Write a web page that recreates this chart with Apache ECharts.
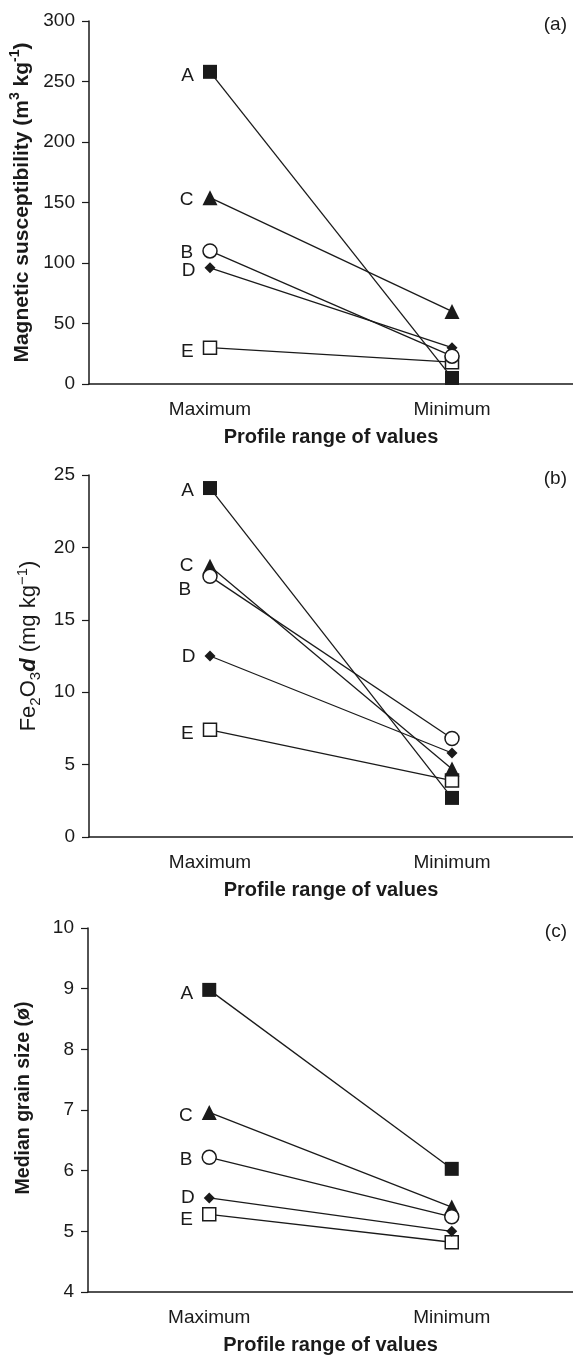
<!DOCTYPE html>
<html>
<head>
<meta charset="utf-8">
<script src="https://cdn.jsdelivr.net/npm/echarts@6/dist/echarts.min.js"></script>
<style>
html,body{margin:0;padding:0;background:#fff;}
#chart{width:573px;height:1356px;}
</style>
</head>
<body>
<div id="chart"></div>
<script>
// ---- data ----
const categories = ['Maximum', 'Minimum'];
const sites = ['A', 'B', 'C', 'D', 'E'];
// (a) magnetic susceptibility (m3 kg-1)
const susceptibilityMax = [258, 110, 154, 96, 30];
const susceptibilityMin = [5, 23, 60, 30, 18];
// (b) Fe2O3d (mg kg-1)
const fe2o3Max = [24.1, 18.0, 18.7, 12.5, 7.4];
const fe2o3Min = [2.7, 6.8, 4.7, 5.8, 3.9];
// (c) median grain size (phi)
const grainMax = [8.98, 6.22, 6.96, 5.55, 5.28];
const grainMin = [6.03, 5.24, 5.40, 5.00, 4.82];
// y-axis ranges
const yMinA = 0, yMaxA = 300, yStepA = 50;
const yMinB = 0, yMaxB = 25, yStepB = 5;
const yMinC = 4, yMaxC = 10, yStepC = 1;

// ---- styles ----
const FONT = 'Liberation Sans, Arial, Helvetica, sans-serif';
const INK = '#1a1a1a';
const symbols = {
  A: {symbol: 'rect', size: 14, fill: INK},
  B: {symbol: 'circle', size: 14, fill: '#fff'},
  C: {symbol: 'triangle', size: 15, fill: INK},
  D: {symbol: 'diamond', size: 11, fill: INK},
  E: {symbol: 'rect', size: 13, fill: '#fff'}
};
const grids = [
  {left: 89, width: 484, top: 21, height: 363},
  {left: 89, width: 484, top: 475, height: 362},
  {left: 88, width: 485, top: 928, height: 364}
];
const labelOffsets = [
  {A: [0, 4], B: [0, 2], C: [0, 2], D: [0, 3], E: [0, 4]},
  {A: [0, 3], B: [-2, 13], C: [0, 0], D: [0, 1], E: [0, 4]},
  {A: [0, 4], B: [0, 2], C: [0, 3], D: [0, 0], E: [0, 5]}
];

function richFor(size) {
  const small = Math.round(size * 0.66);
  const lh = size + 6;
  return {
    b: {fontFamily: FONT, fontSize: size, fontWeight: 'bold', color: INK, lineHeight: lh},
    bs: {fontFamily: FONT, fontSize: small, fontWeight: 'bold', color: INK, lineHeight: lh, verticalAlign: 'top', padding: [0, 0, 8, 0]},
    r: {fontFamily: FONT, fontSize: size, fontWeight: 'normal', color: INK, lineHeight: lh},
    it: {fontFamily: FONT, fontSize: size, fontWeight: 'bold', fontStyle: 'italic', color: INK, lineHeight: lh},
    sub: {fontFamily: FONT, fontSize: small, color: INK, lineHeight: lh, verticalAlign: 'bottom', padding: [8, 0, 0, 0]},
    sup: {fontFamily: FONT, fontSize: small, color: INK, lineHeight: lh, verticalAlign: 'top', padding: [0, 0, 8, 0]}
  };
}

const panels = [
  {max: susceptibilityMax, min: susceptibilityMin, yMin: yMinA, yMax: yMaxA, step: yStepA,
   name: '{b|Magnetic susceptibility (m}{bs|3}{b| kg}{bs|-1}{b|)}', nameSize: 21, nameGap: 51, namePad: [0, 0, 0, 0], tag: '(a)'},
  {max: fe2o3Max, min: fe2o3Min, yMin: yMinB, yMax: yMaxB, step: yStepB,
   name: '{r|Fe}{sub|2}{r|O}{sub|3}{it|d}{r| (mg kg}{sup|−1}{r|)}', nameSize: 22, nameGap: 44, namePad: [0, 0, 0, 20], tag: '(b)'},
  {max: grainMax, min: grainMin, yMin: yMinC, yMax: yMaxC, step: yStepC,
   name: '{b|Median grain size (ø)}', nameSize: 19.5, nameGap: 52, namePad: [0, 0, 0, 24], tag: '(c)'}
];

const xAxes = [], yAxes = [], series = [], graphics = [];
panels.forEach((p, gi) => {
  xAxes.push({
    type: 'category', gridIndex: gi, data: categories, boundaryGap: true,
    name: 'Profile range of values', nameLocation: 'middle', nameGap: 43,
    nameTextStyle: {fontFamily: FONT, fontSize: 20, fontWeight: 'bold', color: INK},
    axisLine: {lineStyle: {color: INK, width: 1.5}},
    axisTick: {alignWithLabel: true, length: 6, lineStyle: {color: INK, width: 1.2}},
    axisLabel: {fontFamily: FONT, fontSize: 19, color: INK, margin: 16},
    splitLine: {show: false}
  });
  yAxes.push({
    type: 'value', gridIndex: gi, min: p.yMin, max: p.yMax, interval: p.step,
    name: p.name, nameLocation: 'middle', nameGap: p.nameGap, nameRotate: 90,
    nameTextStyle: {fontFamily: FONT, fontSize: p.nameSize, color: INK, rich: richFor(p.nameSize), padding: p.namePad},
    axisLine: {show: true, lineStyle: {color: INK, width: 1.5}},
    axisTick: {show: true, length: 7, lineStyle: {color: INK, width: 1.2}},
    axisLabel: {fontFamily: FONT, fontSize: 19, color: INK, margin: 14},
    splitLine: {show: false}
  });
  sites.forEach((s, si) => {
    const sym = symbols[s];
    series.push({
      type: 'line', name: s + gi, xAxisIndex: gi, yAxisIndex: gi,
      data: [
        {value: p.max[si], label: {show: true, position: 'left', distance: 9, formatter: s,
          offset: labelOffsets[gi][s], fontFamily: FONT, fontSize: 19, color: INK}},
        p.min[si]
      ],
      symbol: sym.symbol, symbolSize: sym.size, showAllSymbol: true,
      lineStyle: {color: INK, width: 1.3},
      itemStyle: {color: sym.fill, borderColor: INK, borderWidth: sym.fill === '#fff' ? 1.5 : 0},
      emphasis: {disabled: true},
      animation: false,
      z: 10 - si
    });
  });
  graphics.push({
    type: 'text', right: 6, top: grids[gi].top - 6,
    style: {text: p.tag, fontFamily: FONT, fontSize: 19, fill: INK}
  });
});

const chart = echarts.init(document.getElementById('chart'), null, {renderer: 'canvas'});
chart.setOption({
  backgroundColor: '#fff',
  animation: false,
  grid: grids,
  xAxis: xAxes,
  yAxis: yAxes,
  series: series,
  graphic: graphics
});
</script>
</body>
</html>
